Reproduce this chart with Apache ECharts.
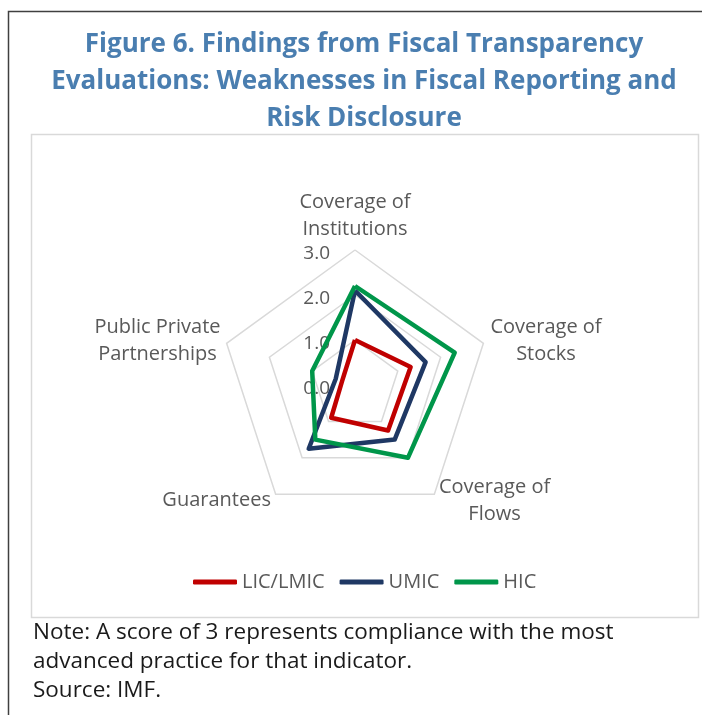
<!DOCTYPE html>
<html>
<head>
<meta charset="utf-8">
<script src="https://cdn.jsdelivr.net/npm/echarts@6/dist/echarts.min.js"></script>
<style>
html,body{margin:0;padding:0;background:#fff;}
#c{width:702px;height:715px;}
</style>
</head>
<body>
<div id="c"></div>
<script>
// Data (natural clockwise order starting from top)
const indicatorNames = ['Coverage of\nInstitutions', 'Coverage of\nStocks', 'Coverage of\nFlows', 'Guarantees', 'Public Private\nPartnerships'];
const seriesNames = ['LIC/LMIC', 'UMIC', 'HIC'];
const licLmic = [1.0, 1.3, 1.25, 0.9, 0.3];
const umic = [2.1, 1.65, 1.5, 1.75, 0.45];
const hic = [2.2, 2.33, 2.0, 1.5, 1.0];
const scaleMax = 3;
const tickLabels = ['0.0', '1.0', '2.0', '3.0'];
const titleLines = ['Figure 6. Findings from Fiscal Transparency', 'Evaluations: Weaknesses in Fiscal Reporting and', 'Risk Disclosure'];
const noteLines = ['Note: A score of 3 represents compliance with the most', 'advanced practice for that indicator.', 'Source: IMF.'];

const colors = ['#c00000', '#1f3864', '#00964a'];
// ECharts lays radar axes counter-clockwise; reorder to display clockwise like the original
const order = [0, 4, 3, 2, 1];
const FONT = '"Open Sans", Lato, sans-serif';
const labelColor = '#595959';

// per-indicator name placement (in display order: Institutions, PPP, Guarantees, Flows, Stocks)
const nameStyles = {
  0: {align: 'center', verticalAlign: 'bottom', padding: [0, 0, -1, 0]},
  1: {align: 'center', verticalAlign: 'middle', padding: [0, 123, 0, 0]},
  2: {align: 'right', verticalAlign: 'middle', padding: [0, 0, 4, 0]},
  3: {align: 'center', verticalAlign: 'middle', padding: [0, 0, 10, 111]},
  4: {align: 'center', verticalAlign: 'middle', padding: [0, 0, 0, 110]}
};

const indicators = order.map((k, i) => ({
  name: indicatorNames[k],
  min: 0,
  max: scaleMax,
  axisLabel: {show: i === 0},
  nameTextStyle: Object.assign({color: labelColor, fontFamily: FONT, fontSize: 20, lineHeight: 27}, nameStyles[i])
}));

const seriesData = [licLmic, umic, hic];

const chart = echarts.init(document.getElementById('c'), null, {renderer: 'canvas'});
chart.setOption({
  animation: false,
  color: colors,
  title: {
    text: titleLines.join('\n'),
    left: 359, top: 21, textAlign: 'center',
    textStyle: {color: '#4a7eb0', fontFamily: FONT, fontWeight: 'bold', fontSize: 26, lineHeight: 37}
  },
  legend: {
    data: seriesNames,
    left: 188, top: 567,
    icon: 'roundRect', itemWidth: 44, itemHeight: 5, itemGap: 15,
    textStyle: {color: labelColor, fontFamily: FONT, fontSize: 20}
  },
  radar: {
    center: [355, 385],
    radius: 135,
    startAngle: 90,
    splitNumber: 3,
    shape: 'polygon',
    nameGap: 8,
    axisName: {color: labelColor, fontFamily: FONT, fontSize: 20},
    axisLine: {show: false},
    axisTick: {show: false},
    axisLabel: {
      show: false, color: labelColor, fontFamily: FONT, fontSize: 19, margin: 25,
      formatter: function (v) { return '{t|' + tickLabels[Math.round(v)] + '}'; },
      rich: {t: {color: labelColor, fontFamily: FONT, fontSize: 19, padding: [7, 0, 0, 0]}}
    },
    splitLine: {lineStyle: {color: '#d9d9d9', width: 1.5}},
    splitArea: {show: false},
    indicator: indicators
  },
  series: [{
    type: 'radar',
    symbol: 'none',
    data: seriesNames.map((n, s) => ({
      name: n,
      value: order.map(k => seriesData[s][k]),
      lineStyle: {color: colors[s], width: 4.5},
      itemStyle: {color: colors[s]}
    }))
  }],
  graphic: [
    {type: 'polyline', shape: {points: [[8.5, 715], [8.5, 11.5], [702, 11.5]]}, style: {stroke: '#404040', lineWidth: 1.5, fill: null}},
    {type: 'rect', shape: {x: 31.5, y: 134.5, width: 667, height: 483}, style: {stroke: '#d9d9d9', lineWidth: 1.5, fill: null}},
    {type: 'text', left: 33, top: 618, style: {text: noteLines.join('\n'), fill: '#1a1a1a', font: '22.5px ' + FONT, lineHeight: 29}}
  ]
});
</script>
</body>
</html>
